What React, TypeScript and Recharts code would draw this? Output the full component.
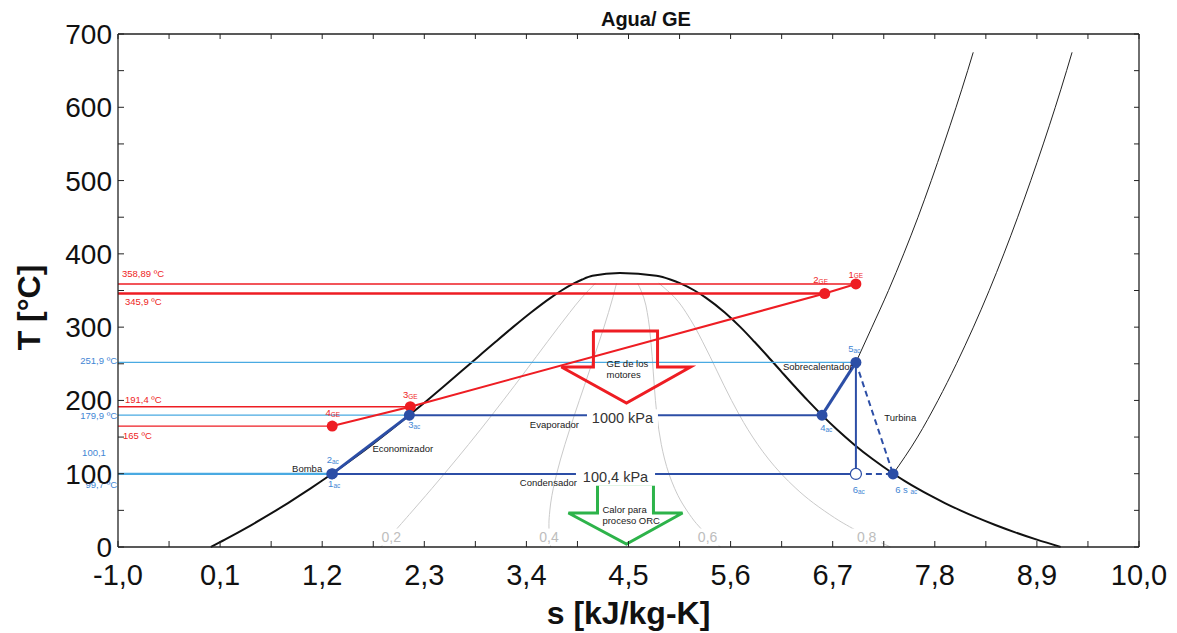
import React from 'react';
import { ComposedChart, Line, Scatter, XAxis, YAxis, Label, ReferenceLine } from 'recharts';

const FONT = '"Liberation Sans", Arial, sans-serif';
const RED = '#ee1d23';
const BLUE = '#2c4ea6';
const BLUE_TXT = '#3f86d4';
const LIGHT_BLUE = '#49aae2';
const GREEN = '#2db34a';
const GRAY = '#cacaca';

const xTicks = [-1, -0.45, 0.1, 0.65, 1.2, 1.75, 2.3, 2.85, 3.4, 3.95, 4.5, 5.05, 5.6, 6.15, 6.7, 7.25, 7.8, 8.35, 8.9, 9.45, 10];
const xTickLabels = ['-1,0', '', '0,1', '', '1,2', '', '2,3', '', '3,4', '', '4,5', '', '5,6', '', '6,7', '', '7,8', '', '8,9', '', '10,0'];
const yTicks = [0, 50, 100, 150, 200, 250, 300, 350, 400, 450, 500, 550, 600, 650, 700];
const yTickLabels = ['0', '', '100', '', '200', '', '300', '', '400', '', '500', '', '600', '', '700'];

const satLiquid = [
  { s: 0, T: 0.01 }, { s: 0.1511, T: 10 }, { s: 0.2965, T: 20 }, { s: 0.4368, T: 30 }, { s: 0.5724, T: 40 },
  { s: 0.7038, T: 50 }, { s: 0.8313, T: 60 }, { s: 0.9551, T: 70 }, { s: 1.0756, T: 80 }, { s: 1.1929, T: 90 },
  { s: 1.3072, T: 100 }, { s: 1.5279, T: 120 }, { s: 1.7392, T: 140 }, { s: 1.9426, T: 160 }, { s: 2.1392, T: 180 },
  { s: 2.3305, T: 200 }, { s: 2.5177, T: 220 }, { s: 2.702, T: 240 }, { s: 2.8849, T: 260 }, { s: 3.0685, T: 280 },
  { s: 3.2552, T: 300 }, { s: 3.4494, T: 320 }, { s: 3.6601, T: 340 }, { s: 3.7784, T: 350 }, { s: 3.9167, T: 360 },
  { s: 4.0014, T: 365 }, { s: 4.1112, T: 370 },
];
const criticalPoint = [{ s: 4.407, T: 373.95 }];
const satVapor = [
  { s: 4.8012, T: 370 }, { s: 4.9497, T: 365 }, { s: 5.0536, T: 360 }, { s: 5.211, T: 350 }, { s: 5.3356, T: 340 },
  { s: 5.5372, T: 320 }, { s: 5.7059, T: 300 }, { s: 5.8565, T: 280 }, { s: 6.0016, T: 260 }, { s: 6.1423, T: 240 },
  { s: 6.284, T: 220 }, { s: 6.4302, T: 200 }, { s: 6.5841, T: 180 }, { s: 6.7491, T: 160 }, { s: 6.9294, T: 140 },
  { s: 7.1292, T: 120 }, { s: 7.3541, T: 100 }, { s: 7.4781, T: 90 }, { s: 7.6111, T: 80 }, { s: 7.754, T: 70 },
  { s: 7.9081, T: 60 }, { s: 8.0748, T: 50 }, { s: 8.2555, T: 40 }, { s: 8.452, T: 30 }, { s: 8.666, T: 20 },
  { s: 8.8998, T: 10 }, { s: 9.1555, T: 0.01 },
];
const dome = [...satLiquid, ...criticalPoint, ...satVapor];

const qualityT = [0.01, 10, 20, 30, 40, 60, 80, 100, 120, 140, 160, 180, 200, 220, 240, 260, 280, 300, 320, 340, 360];
const q02S = [1.8311, 1.9008, 1.9704, 2.0398, 2.109, 2.2467, 2.3827, 2.5166, 2.6482, 2.7772, 2.9039, 3.0282, 3.1504, 3.271, 3.3901, 3.5082, 3.6261, 3.7453, 3.867, 3.9952, 4.1441];
const q04S = [3.6622, 3.6506, 3.6443, 3.6429, 3.6456, 3.662, 3.6898, 3.726, 3.7684, 3.8153, 3.8652, 3.9172, 3.9704, 4.0242, 4.0781, 4.1316, 4.1837, 4.2355, 4.2845, 4.3303, 4.3715];
const q06S = [5.4933, 5.4003, 5.3182, 5.2459, 5.1823, 5.0774, 4.9969, 4.9353, 4.8887, 4.8533, 4.8265, 4.8061, 4.7903, 4.7775, 4.7662, 4.7549, 4.7413, 4.7256, 4.7021, 4.6654, 4.5988];
const q08S = [7.3244, 7.1501, 6.9921, 6.849, 6.7189, 6.4927, 6.304, 6.1447, 6.0089, 5.8914, 5.7878, 5.6951, 5.6103, 5.5307, 5.4542, 5.3783, 5.2989, 5.2158, 5.1196, 5.0005, 4.8262];

const isobar1000T = [251.9, 300, 350, 400, 450, 500, 550, 600, 650, 675];
const isobar1000S = [6.95, 7.123, 7.301, 7.465, 7.619, 7.762, 7.898, 8.029, 8.154, 8.214];
const isobar100T = [99.7, 150, 200, 250, 300, 350, 400, 450, 500, 550, 600, 650, 675];
const isobar100S = [7.35, 7.614, 7.834, 8.033, 8.216, 8.386, 8.544, 8.693, 8.834, 8.969, 9.098, 9.22, 9.279];

const waterStates = [
  { id: '1ac', s: 1.303, T: 99.7 },
  { id: '2ac', s: 1.31, T: 100.1 },
  { id: '3ac', s: 2.139, T: 179.9 },
  { id: '4ac', s: 6.585, T: 179.9 },
  { id: '5ac', s: 6.95, T: 251.9 },
  { id: '6sac', s: 7.35, T: 99.7 },
];
const state6ac = [{ id: '6ac', s: 6.95, T: 99.7 }];
const gasStates = [
  { id: '1GE', s: 6.95, T: 358.89 },
  { id: '2GE', s: 6.614, T: 345.9 },
  { id: '3GE', s: 2.149, T: 191.4 },
  { id: '4GE', s: 1.308, T: 165 },
];

const arrowGE = [
  { s: 4.122, T: 294.7 }, { s: 4.813, T: 294.7 }, { s: 4.813, T: 245.6 }, { s: 5.168, T: 245.6 },
  { s: 4.478, T: 196.5 }, { s: 3.777, T: 245.6 }, { s: 4.122, T: 245.6 }, { s: 4.122, T: 294.7 },
];
const arrowORC = [
  { s: 4.166, T: 85.9 }, { s: 4.769, T: 85.9 }, { s: 4.769, T: 46.4 }, { s: 5.082, T: 46.4 },
  { s: 4.478, T: 4.1 }, { s: 3.853, T: 46.4 }, { s: 4.166, T: 46.4 }, { s: 4.166, T: 85.9 },
];

const labels = [
  { s: 4.688, T: 700, text: 'Agua/ GE', kind: 'title', dy: -15 },
  { s: -0.957, T: 373.4, text: '358,89 ºC', kind: 'red', anchor: 'start' },
  { s: -0.925, T: 334.7, text: '345,9 ºC', kind: 'red', anchor: 'start' },
  { s: -0.925, T: 200.5, text: '191,4 ºC', kind: 'red', anchor: 'start' },
  { s: -0.946, T: 151.4, text: '165 ºC', kind: 'red', anchor: 'start' },
  { s: -1, T: 254.2, text: '251,9 ºC', kind: 'blue', anchor: 'end', dx: -1 },
  { s: -1, T: 178.7, text: '179,9 ºC', kind: 'blue', anchor: 'end', dx: -1 },
  { s: -1, T: 128.2, text: '100,1', kind: 'blue', anchor: 'middle', dx: -24 },
  { s: -1, T: 84.6, text: '99,7 ºC', kind: 'blue', anchor: 'end', dx: -1 },
  { s: 1.313, T: 118.7, text: '2', sub: 'ac', kind: 'blue' },
  { s: 1.329, T: 86, text: '1', sub: 'ac', kind: 'blue' },
  { s: 1.2, T: 106.4, text: 'Bomba', kind: 'black', anchor: 'end' },
  { s: 2.068, T: 133.7, text: 'Economizador', kind: 'black' },
  { s: 2.149, T: 207.4, text: '3', sub: 'GE', kind: 'red' },
  { s: 2.192, T: 166.4, text: '3', sub: 'ac', kind: 'blue' },
  { s: 1.313, T: 182.8, text: '4', sub: 'GE', kind: 'red' },
  { s: 3.702, T: 166.4, text: 'Evaporador', kind: 'black' },
  { s: 4.435, T: 176, text: '1000 kPa', kind: 'kpa' },
  { s: 4.36, T: 95.5, text: '100,4 kPa', kind: 'kpa' },
  { s: 3.637, T: 87.3, text: 'Condensador', kind: 'black' },
  { s: 4.263, T: 249.7, text: 'GE de los', kind: 'black', anchor: 'start' },
  { s: 4.263, T: 234.7, text: 'motores', kind: 'black', anchor: 'start' },
  { s: 4.219, T: 50.5, text: 'Calor para', kind: 'black', anchor: 'start' },
  { s: 4.219, T: 35.5, text: 'proceso ORC', kind: 'black', anchor: 'start' },
  { s: 6.932, T: 270.1, text: '5', sub: 'ac', kind: 'blue' },
  { s: 6.915, T: 245.6, text: 'Sobrecalentador', kind: 'black', anchor: 'end' },
  { s: 6.63, T: 162.3, text: '4', sub: 'ac', kind: 'blue' },
  { s: 7.428, T: 176, text: 'Turbina', kind: 'black' },
  { s: 6.98, T: 77.8, text: '6', sub: 'ac', kind: 'blue' },
  { s: 7.492, T: 77.8, text: '6 s ', sub: 'ac', kind: 'blue' },
  { s: 6.57, T: 364.3, text: '2', sub: 'GE', kind: 'red' },
  { s: 6.948, T: 372.4, text: '1', sub: 'GE', kind: 'red' },
  { s: 1.944, T: 13.6, text: '0,2', kind: 'quality' },
  { s: 3.643, T: 13.6, text: '0,4', kind: 'quality' },
  { s: 5.352, T: 13.6, text: '0,6', kind: 'quality' },
  { s: 7.066, T: 13.6, text: '0,8', kind: 'quality' },
];

const zip = (S: number[], T: number[]) => S.map((s, i) => ({ s, T: T[i] }));
const w = (id: string) => [...waterStates, ...state6ac].find((p) => p.id === id)!;
const seg = (a: { s: number; T: number }, b: { s: number; T: number }) => [{ s: a.s, T: a.T }, { s: b.s, T: b.T }];

const qualityLines = [q02S, q04S, q06S, q08S].map((S) => zip(S, qualityT));
const iso1000 = zip(isobar1000S, isobar1000T);
const iso100 = zip(isobar100S, isobar100T);
const gasPath = gasStates.slice().reverse().map((p) => ({ s: p.s, T: p.T }));
const topTicks = xTicks.map((s) => ({ s, T: 700 }));
const rightTicks = yTicks.map((T) => ({ s: 10, T }));
const redRefs = gasStates.map((p) => ({ id: p.id, s: p.s, T: p.T, width: p.id === '2GE' ? 2.4 : 1.4 }));
const blueRefs = [
  { id: 'b5', s: 6.95, T: 251.9, width: 1.2 },
  { id: 'b3', s: 2.139, T: 179.9, width: 1.2 },
  { id: 'b2', s: 1.31, T: 100.1, width: 2 },
  { id: 'b1', s: 1.303, T: 99.7, width: 2 },
];

const STYLES: Record<string, { fill: string; size: number; bg?: boolean; bold?: boolean }> = {
  title: { fill: '#111', size: 20, bold: true },
  red: { fill: RED, size: 9.5 },
  blue: { fill: BLUE_TXT, size: 9.5 },
  black: { fill: '#1a1a1a', size: 9.5 },
  kpa: { fill: '#333', size: 14.5, bg: true },
  quality: { fill: '#bdbdbd', size: 14, bg: true },
};

const LabelShape = (props: any) => {
  const { cx, cy, payload } = props;
  if (cx == null || cy == null) return null;
  const st = STYLES[payload.kind];
  const x = cx + (payload.dx || 0);
  const y = cy + (payload.dy || 0);
  const anchor = payload.anchor || 'middle';
  const bgW = payload.text.length * st.size * 0.56 + 6;
  return (
    <g>
      {st.bg && <rect x={x - bgW / 2} y={y - st.size * 0.6} width={bgW} height={st.size * 1.2} fill="#fff" />}
      <text x={x} y={y} dy="0.36em" textAnchor={anchor} fontSize={st.size} fontWeight={st.bold ? 'bold' : 'normal'} fill={st.fill} fontFamily={FONT}>
        {payload.text}
        {payload.sub && (
          <tspan fontSize={st.size * 0.68} dy="0.1em">
            {payload.sub}
          </tspan>
        )}
      </text>
    </g>
  );
};

const Dot = (props: any) => {
  const { cx, cy, fill, stroke, open } = props;
  if (cx == null) return null;
  return <circle cx={cx} cy={cy} r={5.5} fill={open ? '#fff' : fill} stroke={stroke || fill} strokeWidth={open ? 1.2 : 0} />;
};
const TopTickShape = (props: any) => {
  const { cx, cy } = props;
  if (cx == null) return null;
  return <line x1={cx} y1={cy} x2={cx} y2={cy + 5} stroke="#222" strokeWidth={1} />;
};
const RightTickShape = (props: any) => {
  const { cx, cy } = props;
  if (cx == null) return null;
  return <line x1={cx} y1={cy} x2={cx - 5} y2={cy} stroke="#222" strokeWidth={1} />;
};

const XTick = (props: any) => {
  const { x, y, index } = props;
  const lab = xTickLabels[index];
  return (
    <g>
      <line x1={x} y1={y} x2={x} y2={y - 6} stroke="#222" strokeWidth={1} />
      {lab && (
        <text x={x} y={y + 38} textAnchor="middle" fontSize={29} fontFamily={FONT} fill="#111">
          {lab}
        </text>
      )}
    </g>
  );
};
const YTick = (props: any) => {
  const { x, y, index } = props;
  const lab = yTickLabels[index];
  return (
    <g>
      <line x1={x} y1={y} x2={x + 6} y2={y} stroke="#222" strokeWidth={1} />
      {lab && (
        <text x={x - 6} y={y + 10} textAnchor="end" fontSize={28} fontFamily={FONT} fill="#111">
          {lab}
        </text>
      )}
    </g>
  );
};

const XTitle = (props: any) => {
  const vb = props.viewBox;
  return (
    <text x={vb.x + vb.width / 2} y={vb.y + 77} textAnchor="middle" fontSize={32} fontWeight="bold" fontFamily={FONT} fill="#111">
      s [kJ/kg-K]
    </text>
  );
};
const YTitle = (props: any) => {
  const vb = props.viewBox;
  const cx = vb.x + 40;
  const cy = vb.y + vb.height / 2 + 17;
  return (
    <text x={cx} y={cy} transform={`rotate(-90 ${cx} ${cy})`} textAnchor="middle" fontSize={32} fontWeight="bold" fontFamily={FONT} fill="#111">
      T [°C]
    </text>
  );
};

const L = (key: string, data: any[], stroke: string, width: number, extra: any = {}) => (
  <Line key={key} name={key} data={data} dataKey="T" stroke={stroke} strokeWidth={width} dot={false} activeDot={false} isAnimationActive={false} type="linear" {...extra} />
);

export default function App() {
  return (
    <div style={{ position: 'absolute', left: 0, top: 0, background: '#fff' }}>
      <ComposedChart width={1177} height={633} margin={{ top: 34, right: 38, bottom: 0, left: 0 }}>
        <XAxis type="number" dataKey="s" domain={[-1, 10]} ticks={xTicks} interval={0} tickSize={0} tickMargin={0} tickLine={false}
          axisLine={{ stroke: '#222', strokeWidth: 1.3 }} height={86} tick={(p: any) => <XTick {...p} />}>
          <Label content={XTitle} />
        </XAxis>
        <YAxis type="number" domain={[0, 700]} ticks={yTicks} interval={0} tickSize={0} tickMargin={0} tickLine={false}
          axisLine={{ stroke: '#222', strokeWidth: 1.3 }} width={118} tick={(p: any) => <YTick {...p} />}>
          <Label content={YTitle} />
        </YAxis>
        <ReferenceLine y={700} stroke="#222" strokeWidth={1.3} />
        <ReferenceLine x={10} stroke="#222" strokeWidth={1.3} />

        {qualityLines.map((q, i) => L('q' + i, q, GRAY, 1, { type: 'natural' }))}
        {L('dome', dome, '#111', 2, { type: 'monotone' })}
        {L('iso1000', iso1000, '#222', 1, { type: 'monotone' })}
        {L('iso100', iso100, '#222', 1, { type: 'monotone' })}

        {redRefs.map((p) => (
          <ReferenceLine key={'r' + p.id} segment={[{ x: -1, y: p.T }, { x: p.s, y: p.T }]} stroke={RED} strokeWidth={p.width} />
        ))}
        {blueRefs.map((p) => (
          <ReferenceLine key={p.id} segment={[{ x: -1, y: p.T }, { x: p.s, y: p.T }]} stroke={LIGHT_BLUE} strokeWidth={p.width} />
        ))}

        {L('arrowGE', arrowGE, RED, 3)}
        {L('arrowORC', arrowORC, GREEN, 3)}

        {L('gas', gasPath, RED, 2)}
        {L('eco', seg(w('2ac'), w('3ac')), BLUE, 3)}
        {L('evap', seg(w('3ac'), w('4ac')), BLUE, 2)}
        {L('sup', seg(w('4ac'), w('5ac')), BLUE, 3)}
        {L('turb', seg(w('5ac'), w('6ac')), BLUE, 2)}
        {L('cond', seg(w('1ac'), w('6ac')), BLUE, 2)}
        {L('turbS', seg(w('5ac'), w('6sac')), BLUE, 2, { strokeDasharray: '6 4' })}
        {L('condS', seg(w('6ac'), w('6sac')), BLUE, 2, { strokeDasharray: '6 4' })}

        <Scatter data={topTicks} dataKey="T" isAnimationActive={false} shape={(p: any) => <TopTickShape {...p} />} />
        <Scatter data={rightTicks} dataKey="T" isAnimationActive={false} shape={(p: any) => <RightTickShape {...p} />} />
        <Scatter data={gasStates} dataKey="T" fill={RED} isAnimationActive={false} shape={(p: any) => <Dot {...p} fill={RED} />} />
        <Scatter data={waterStates} dataKey="T" fill={BLUE} isAnimationActive={false} shape={(p: any) => <Dot {...p} fill={BLUE} />} />
        <Scatter data={state6ac} dataKey="T" fill={BLUE} isAnimationActive={false} shape={(p: any) => <Dot {...p} fill={BLUE} stroke={BLUE} open />} />
        <Scatter data={labels} dataKey="T" isAnimationActive={false} shape={(p: any) => <LabelShape {...p} />} />
      </ComposedChart>
    </div>
  );
}
